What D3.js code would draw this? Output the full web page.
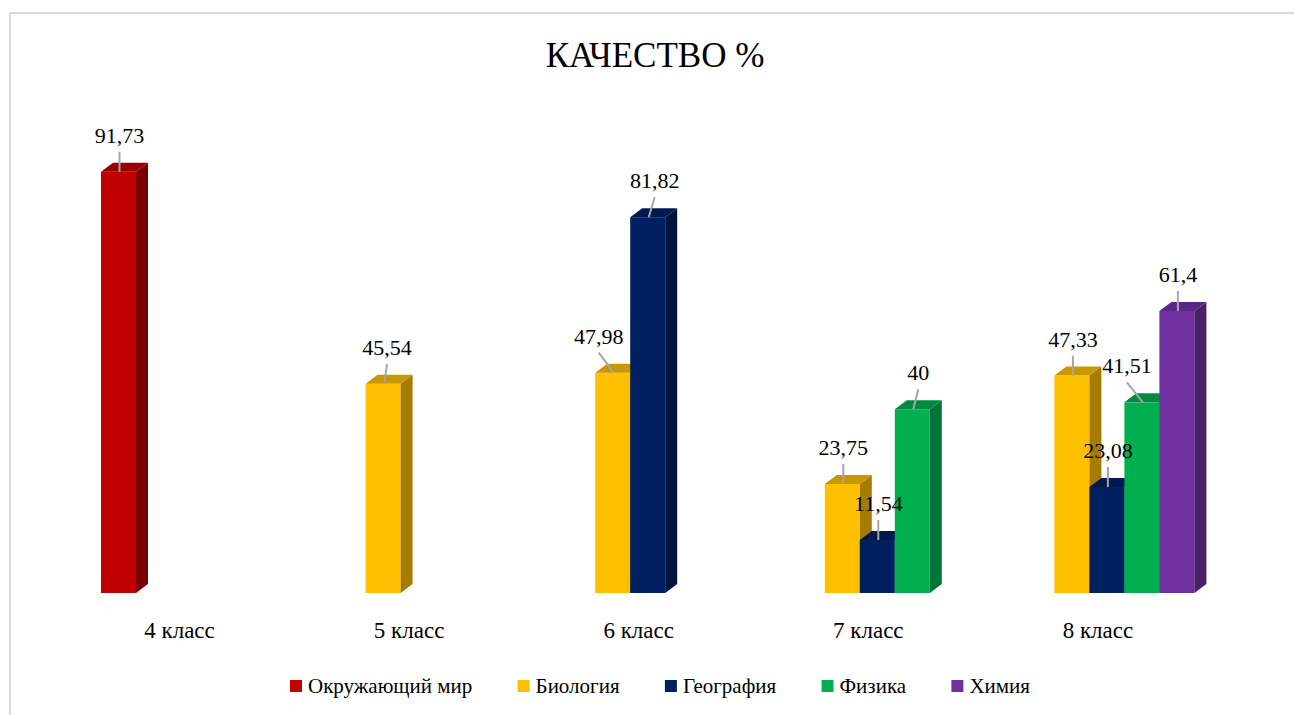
<!DOCTYPE html>
<html>
<head>
<meta charset="utf-8">
<script src="https://cdn.jsdelivr.net/npm/d3@7"></script>
<style>
  html, body { margin: 0; padding: 0; background: #fff; }
  svg { display: block; }
</style>
</head>
<body>
<svg id="chart" width="1294" height="715"></svg>
<script>
const categories = ["4 класс", "5 класс", "6 класс", "7 класс", "8 класс"];
const seriesNames = ["Окружающий мир", "Биология", "География", "Физика", "Химия"];
// null = no bar for that class
const okrMir   = [91.73, null, null, null, null];
const biologia = [null, 45.54, 47.98, 23.75, 47.33];
const geografia = [null, null, 81.82, 11.54, 23.08];
const fizika   = [null, null, null, 40, 41.51];
const himia    = [null, null, null, null, 61.4];
const seriesValues = [okrMir, biologia, geografia, fizika, himia];

const front = ["#c00000", "#ffc000", "#002060", "#00b050", "#7030a0"];
const side  = ["#7a0000", "#a67c00", "#001440", "#00753a", "#4a1f6b"];
const top_  = ["#990000", "#c99700", "#001a50", "#008a42", "#5a2688"];

const FONT = "'Liberation Serif', 'Times New Roman', 'DejaVu Serif', serif";

const svg = d3.select("#chart").attr("font-family", FONT);

// chart frame
svg.append("rect")
  .attr("x", 10).attr("y", 13).attr("width", 1300).attr("height", 720)
  .attr("fill", "#fff").attr("stroke", "#d9d9d9").attr("stroke-width", 2);

svg.append("text")
  .attr("x", 655).attr("y", 67)
  .attr("text-anchor", "middle")
  .attr("font-size", 35)
  .attr("fill", "#000")
  .text("КАЧЕСТВО %");

const base = 593;
const x0 = d3.scaleBand().domain(categories).range([73.7, 1221.7])
  .paddingInner(0.2378).paddingOuter(0.1189);
const x1 = d3.scaleBand().domain(seriesNames).range([0, x0.bandwidth()]);
const y = d3.scaleLinear().domain([0, 100]).range([base, 133.7]);
const dx = 12, dy = 9;

const bars = [];
categories.forEach((c, ci) => {
  seriesNames.forEach((s, si) => {
    const v = seriesValues[si][ci];
    if (v != null) bars.push({ c, s, si, v });
  });
});

const fmt = v => String(v).replace(".", ",");

const g = svg.append("g");
bars.forEach(d => {
  const x = x0(d.c) + x1(d.s);
  const w = x1.bandwidth();
  const t = y(d.v);
  const bg = g.append("g");
  bg.append("rect")
    .attr("x", x).attr("y", t).attr("width", w).attr("height", base - t)
    .attr("fill", front[d.si]);
  bg.append("polygon")
    .attr("points", [[x + w, t], [x + w + dx, t - dy], [x + w + dx, base - dy], [x + w, base]].join(" "))
    .attr("fill", side[d.si]);
  bg.append("polygon")
    .attr("points", [[x, t], [x + dx, t - dy], [x + w + dx, t - dy], [x + w, t]].join(" "))
    .attr("fill", top_[d.si]);
});

// data labels with leader lines; a few nudged sideways like the original
const nudge = { "6 класс|Биология": -15, "6 класс|География": 6, "8 класс|Физика": -16, "5 класс|Биология": 3, "7 класс|Физика": 5 };
const lg = svg.append("g");
bars.forEach(d => {
  const cx = x0(d.c) + x1(d.s) + x1.bandwidth() / 2 + 1;
  const t = y(d.v);
  const lx = cx + (nudge[d.c + "|" + d.s] || 0);
  lg.append("line")
    .attr("x1", cx).attr("y1", t)
    .attr("x2", lx).attr("y2", t - 20)
    .attr("stroke", "#a6a6a6").attr("stroke-width", 2);
  lg.append("text")
    .attr("x", lx).attr("y", t - 29)
    .attr("text-anchor", "middle")
    .attr("font-size", 22)
    .attr("fill", "#000")
    .text(fmt(d.v));
});

// category labels
svg.append("g").selectAll("text")
  .data(categories)
  .join("text")
  .attr("x", d => x0(d) + x0.bandwidth() / 2 - 9)
  .attr("y", 638)
  .attr("text-anchor", "middle")
  .attr("font-size", 23)
  .attr("fill", "#000")
  .text(d => d);

// legend, spread over the same span as the original
const legend = svg.append("g");
const items = legend.selectAll("g").data(seriesNames).join("g");
items.append("rect")
  .attr("width", 12).attr("height", 12).attr("y", -13)
  .attr("fill", (d, i) => front[i]);
items.append("text")
  .attr("x", 18).attr("y", 0)
  .attr("font-size", 21)
  .attr("fill", "#000")
  .text(d => d);
const widths = [];
items.each(function () { widths.push(18 + d3.select(this).select("text").node().getComputedTextLength()); });
const span = 740;
const gap = (span - d3.sum(widths)) / (widths.length - 1);
let off = 0;
items.each(function (d, i) {
  d3.select(this).attr("transform", `translate(${off},0)`);
  off += widths[i] + gap;
});
legend.attr("transform", `translate(${660 - span / 2},693)`);
</script>
</body>
</html>
